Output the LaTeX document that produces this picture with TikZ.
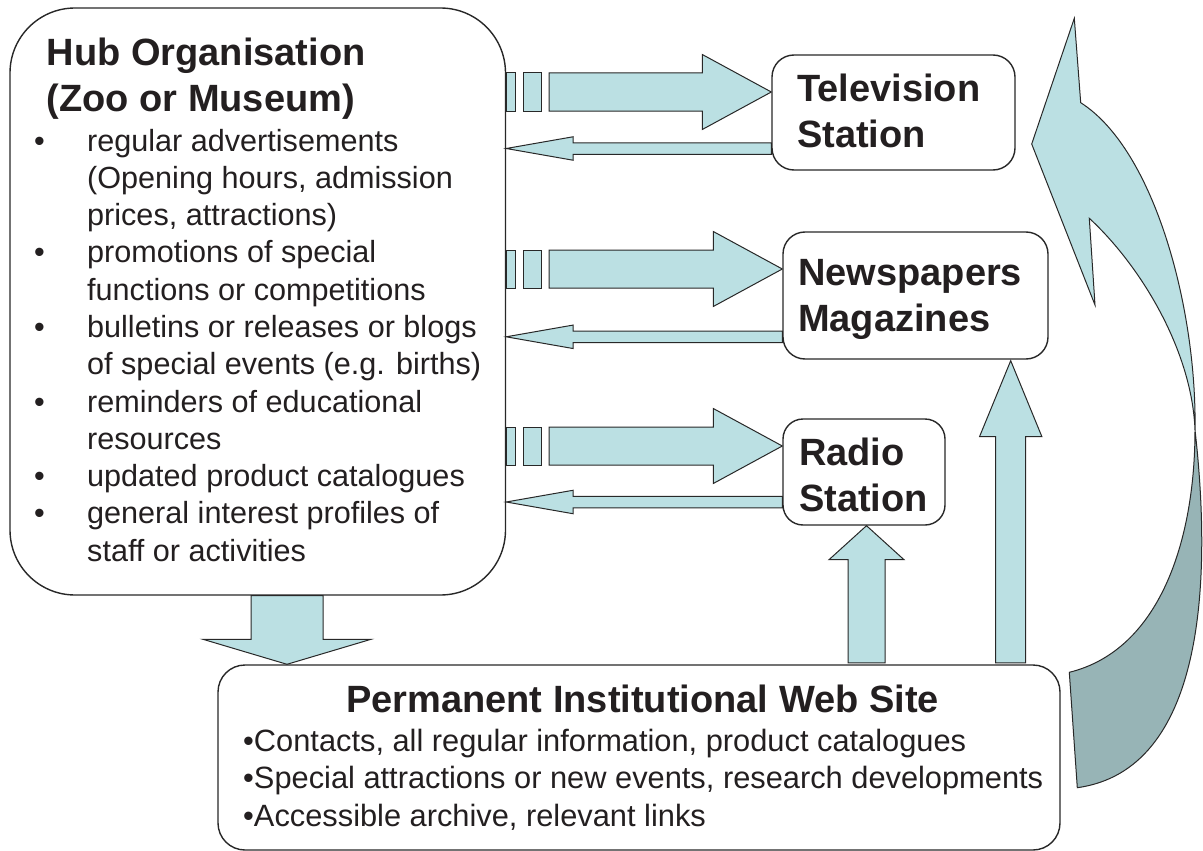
\documentclass[tikz,border=0pt]{standalone}
\usepackage{fontspec}
\setmainfont{Liberation Sans}
\usetikzlibrary{calc}
\definecolor{lightblue}{RGB}{187,224,227}
\definecolor{darkteal}{RGB}{151,180,182}
\definecolor{txtcol}{RGB}{35,31,32}
\definecolor{linecol}{RGB}{40,40,40}
\tikzset{
  box/.style={draw=linecol, line width=1.4pt, rounded corners=#1, fill=white, inner sep=0pt},
  box/.default=22pt,
  arr/.style={draw=linecol, line width=1pt, fill=lightblue, line join=miter},
  darr/.style={draw=linecol, line width=1pt, fill=darkteal, line join=miter},
  bodytxt/.style={inner sep=0pt, text=txtcol, font=\fontsize{30.6}{37.3}\selectfont},
  webtxt/.style={inner sep=0pt, text=txtcol, font=\fontsize{30.8}{37.5}\selectfont},
  headtxt/.style={inner sep=0pt, text=txtcol, font=\fontsize{38}{46}\selectfont\bfseries},
}
\newcommand\stripedarrow[2]{%
  \draw[arr] ($(#1)+(0,-19)$) rectangle ($(#1)+(9,19)$);
  \draw[arr] ($(#1)+(17,-19)$) rectangle ($(#1)+(35,19)$);
  \draw[arr] ($(#1)+(43,-19)$) -- ($(#2)+(-69,-19)$) -- ($(#2)+(-69,-37.5)$) -- (#2)
    -- ($(#2)+(-69,37.5)$) -- ($(#2)+(-69,19)$) -- ($(#1)+(43,19)$) -- cycle;}
\newcommand\returnarrow[2]{%
  \draw[arr] (#2) -- ($(#2)+(67,-11.75)$) -- ($(#2)+(67,-5.75)$) -- ($(#1)+(0,-5.75)$)
    -- ($(#1)+(0,5.75)$) -- ($(#2)+(67,5.75)$) -- ($(#2)+(67,11.75)$) -- cycle;}
\newcommand\vblockarrow[5]{%
  \draw[arr] ($(#1)+(-#3,0)$) -- ($(#2)+(-#3,#5)$) -- ($(#2)+(-#4,#5)$) -- (#2)
    -- ($(#2)+(#4,#5)$) -- ($(#2)+(#3,#5)$) -- ($(#1)+(#3,0)$) -- cycle;}
\begin{document}
\begin{tikzpicture}[x=1pt,y=-1pt]
\useasboundingbox (0,0) rectangle (1203,851);

% boxes
\node[box=65pt, minimum width=495.5pt, minimum height=587pt] (hub) at (257.75,301.5) {};
\node[box=22pt, minimum width=243pt, minimum height=115pt] (tv) at (893.5,112.5) {};
\node[box=22pt, minimum width=265pt, minimum height=127pt] (news) at (915.5,295.5) {};
\node[box=20pt, minimum width=162pt, minimum height=106pt] (radio) at (864,472) {};
\node[box=27pt, minimum width=842pt, minimum height=185pt] (web) at (639,757.5) {};

% texts
\node[headtxt, anchor=base west] (hubtitle) at (46.5,65.5)
  {\begin{tabular}[t]{@{}l@{}}Hub Organisation\\(Zoo or Museum)\end{tabular}};
\node[bodytxt, anchor=base west] (hubitems) at (34,151)
  {\begin{tabular}[t]{@{}l@{}}
  \makebox[53pt][l]{•}regular advertisements\\
  \hspace*{53pt}(Opening hours, admission\\
  \hspace*{53pt}prices, attractions)\\
  \makebox[53pt][l]{•}promotions of special\\
  \hspace*{53pt}functions or competitions\\
  \makebox[53pt][l]{•}bulletins or releases or blogs\\
  \hspace*{53pt}of special events (e.g. births)\\
  \makebox[53pt][l]{•}reminders of educational\\
  \hspace*{53pt}resources\\
  \makebox[53pt][l]{•}updated product catalogues\\
  \makebox[53pt][l]{•}general interest profiles of\\
  \hspace*{53pt}staff or activities
  \end{tabular}};
\node[headtxt, anchor=base west] (tvtxt) at (797,102)
  {\begin{tabular}[t]{@{}l@{}}Television\\Station\end{tabular}};
\node[headtxt, anchor=base west] (newstxt) at (798,285)
  {\begin{tabular}[t]{@{}l@{}}Newspapers\\Magazines\end{tabular}};
\node[headtxt, anchor=base west] (radiotxt) at (799,465)
  {\begin{tabular}[t]{@{}l@{}}Radio\\Station\end{tabular}};
\node[headtxt, anchor=base] (webtitle) at (642.5,712) {Permanent Institutional Web Site};
\node[webtxt, anchor=base west] (webitems) at (243,751)
  {\begin{tabular}[t]{@{}l@{}}
  •Contacts, all regular information, product catalogues\\
  •Special attractions or new events, research developments\\
  •Accessible archive, relevant links
  \end{tabular}};

% coordinates for connectors
\coordinate (tvin) at ($(tv.west)+(0,-20.5)$);
\coordinate (tvout) at ($(tv.west)+(0,36)$);
\coordinate (newsin) at ($(news.west)+(0,-26.5)$);
\coordinate (newsout) at ($(news.west)+(0,41.3)$);
\coordinate (radioin) at ($(radio.west)+(0,-26)$);
\coordinate (radioout) at ($(radio.west)+(0,30)$);

\stripedarrow{hub.east |- tvin}{tvin}
\returnarrow{tvout}{hub.east |- tvout}
\stripedarrow{hub.east |- newsin}{newsin}
\returnarrow{newsout}{hub.east |- newsout}
\stripedarrow{hub.east |- radioin}{radioin}
\returnarrow{radioout}{hub.east |- radioout}

% hub -> web
\coordinate (d1) at ($(hub.south)+(29.25,0)$);
\coordinate (d2) at (d1 |- web.north);
\vblockarrow{d1}{d2}{36}{84}{-25}

% web -> radio, web -> news
\coordinate (rtip) at ($(radio.south)+(2.5,0)$);
\coordinate (rbase) at ($(rtip |- web.north)+(0,-1.5)$);
\vblockarrow{rbase}{rtip}{18.5}{37.5}{34}
\coordinate (ntip) at ($(news.south east)+(-38,1)$);
\coordinate (nbase) at ($(ntip |- web.north)+(0,-1.5)$);
\vblockarrow{nbase}{ntip}{15}{31.2}{76}

% curved return arrow
\draw[darr] (1195,430) .. controls (1212,580) and (1205,770) .. (1077.3,787.7)
  -- (1069.3,672.3) .. controls (1160,650) and (1195,540) .. (1195,430) -- cycle;
\draw[arr] (1195,430) .. controls (1197,310) and (1155,150) .. (1080.7,102.7)
  -- (1074.3,18.3) -- (1031.7,144) -- (1095,305) -- (1089.3,218.3)
  .. controls (1140,265) and (1192,350) .. (1195,430) -- cycle;
\end{tikzpicture}
\end{document}
